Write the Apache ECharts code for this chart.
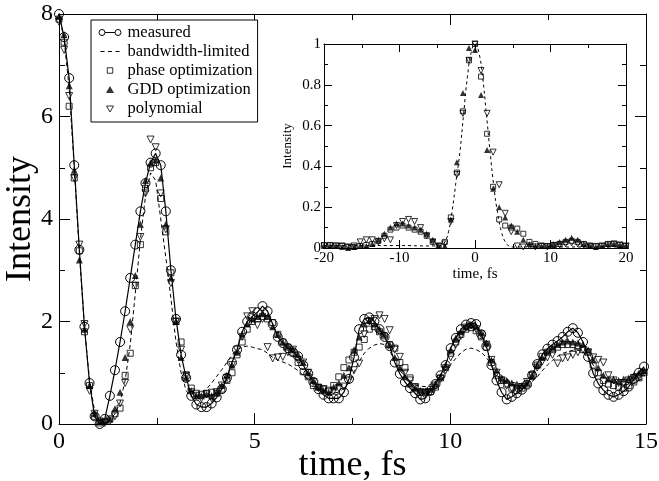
<!DOCTYPE html>
<html>
<head>
    <meta charset="UTF-8">
    <title>Intensity</title>
    <style>
        html, body {margin:0; padding:0; background:#fff;}
        #main {width:659px; height:481px;}
    </style>
</head>
<body>
<div id="main"></div>

<script src="https://cdn.jsdelivr.net/npm/echarts@6/dist/echarts.min.js"></script>
<script>
    // main plot, time in fs
    var mainTime = [0, 0.13, 0.26, 0.39, 0.52, 0.65, 0.78, 0.91, 1.04, 1.17,
        1.3, 1.43, 1.56, 1.69, 1.82, 1.95, 2.08, 2.21, 2.34, 2.47,
        2.6, 2.73, 2.86, 2.99, 3.12, 3.25, 3.38, 3.51, 3.64, 3.77,
        3.9, 4.03, 4.16, 4.29, 4.42, 4.55, 4.68, 4.81, 4.94, 5.07,
        5.2, 5.33, 5.46, 5.59, 5.72, 5.85, 5.98, 6.11, 6.24, 6.37,
        6.5, 6.63, 6.76, 6.89, 7.02, 7.15, 7.28, 7.41, 7.54, 7.67,
        7.8, 7.93, 8.06, 8.19, 8.32, 8.45, 8.58, 8.71, 8.84, 8.97,
        9.1, 9.23, 9.36, 9.49, 9.62, 9.75, 9.88, 10.01, 10.14, 10.27,
        10.4, 10.53, 10.66, 10.79, 10.92, 11.05, 11.18, 11.31, 11.44, 11.57,
        11.7, 11.83, 11.96, 12.09, 12.22, 12.35, 12.48, 12.61, 12.74, 12.87,
        13, 13.13, 13.26, 13.39, 13.52, 13.65, 13.78, 13.91, 14.04, 14.17,
        14.3, 14.43, 14.56, 14.69, 14.82, 14.95];

    var measured = [8.00, 7.55, 6.75, 5.05, 3.40, 1.90, 0.80, 0.15, 0.00, 0.10,
        0.55, 1.05, 1.60, 2.20, 2.85, 3.50, 4.15, 4.70, 5.10, 5.28,
        5.05, 4.15, 3.00, 2.05, 1.35, 0.90, 0.55, 0.38, 0.33, 0.33,
        0.40, 0.52, 0.68, 0.90, 1.20, 1.45, 1.80, 2.00, 2.10, 2.18,
        2.30, 2.20, 1.95, 1.70, 1.58, 1.48, 1.40, 1.32, 1.15, 0.98,
        0.82, 0.68, 0.57, 0.50, 0.50, 0.50, 0.62, 0.88, 1.30, 1.85,
        2.05, 2.08, 2.00, 1.85, 1.70, 1.52, 1.20, 0.98, 0.82, 0.70,
        0.60, 0.48, 0.50, 0.65, 0.78, 0.95, 1.15, 1.48, 1.68, 1.85,
        1.94, 1.97, 1.95, 1.75, 1.52, 1.15, 0.85, 0.62, 0.48, 0.53,
        0.60, 0.67, 0.77, 0.95, 1.17, 1.36, 1.47, 1.55, 1.62, 1.70,
        1.80, 1.87, 1.78, 1.60, 1.31, 0.99, 0.79, 0.66, 0.57, 0.53,
        0.57, 0.64, 0.73, 0.88, 1.00, 1.12];

    var bandwidthLimited = [8.00, 7.50, 6.55, 5.00, 3.35, 1.90, 0.85, 0.25, 0.03, 0.03,
        0.08, 0.20, 0.42, 0.85, 1.55, 2.55, 3.60, 4.45, 4.90, 4.75,
        4.00, 3.25, 2.45, 1.60, 1.00, 0.65, 0.53, 0.52, 0.58, 0.68,
        0.80, 0.93, 1.06, 1.20, 1.35, 1.45, 1.50, 1.52, 1.50, 1.47,
        1.45, 1.38, 1.30, 1.25, 1.21, 1.17, 1.11, 1.04, 0.95, 0.86,
        0.78, 0.70, 0.65, 0.62, 0.61, 0.62, 0.70, 0.80, 1.02, 1.22,
        1.38, 1.48, 1.54, 1.57, 1.55, 1.44, 1.22, 1.05, 0.92, 0.83,
        0.76, 0.74, 0.73, 0.77, 0.83, 0.94, 1.06, 1.16, 1.28, 1.39,
        1.46, 1.48, 1.45, 1.40, 1.30, 1.15, 1.02, 0.94, 0.88, 0.82,
        0.79, 0.78, 0.79, 0.83, 0.92, 1.04, 1.15, 1.24, 1.32, 1.38,
        1.41, 1.44, 1.44, 1.40, 1.32, 1.15, 1.02, 0.92, 0.85, 0.80,
        0.77, 0.76, 0.78, 0.80, 0.85, 0.90];

    var phaseOpt = [7.90, 7.45, 6.20, 4.80, 3.38, 1.80, 0.75, 0.15, 0.02, 0.05,
        0.10, 0.20, 0.31, 0.95, 1.38, 2.70, 3.50, 4.60, 5.00, 5.10,
        4.40, 3.75, 2.95, 2.00, 1.60, 0.95, 0.70, 0.60, 0.58, 0.60,
        0.62, 0.60, 0.68, 0.85, 1.00, 1.35, 1.60, 1.85, 2.00, 2.05,
        2.10, 2.05, 1.98, 1.75, 1.60, 1.50, 1.40, 1.20, 1.02, 0.92,
        0.75, 0.72, 0.68, 0.66, 0.75, 0.92, 1.10, 1.25, 1.40, 1.50,
        1.65, 1.85, 1.90, 1.80, 1.72, 1.55, 1.48, 1.20, 1.10, 0.90,
        0.72, 0.62, 0.62, 0.63, 0.72, 0.90, 1.10, 1.38, 1.60, 1.75,
        1.85, 1.88, 1.82, 1.70, 1.50, 1.20, 0.95, 0.85, 0.78, 0.70,
        0.65, 0.70, 0.78, 0.95, 1.15, 1.32, 1.40, 1.45, 1.50, 1.55,
        1.55, 1.55, 1.52, 1.45, 1.40, 1.15, 1.00, 0.85, 0.78, 0.75,
        0.72, 0.70, 0.75, 0.82, 0.90, 1.00];

    var gddOpt = [7.95, 7.60, 6.60, 4.95, 3.20, 1.85, 0.75, 0.20, 0.05, 0.05,
        0.10, 0.30, 0.62, 1.30, 2.00, 2.90, 3.90, 4.75, 5.10, 5.15,
        4.80, 3.90, 2.85, 2.00, 1.30, 0.90, 0.65, 0.55, 0.55, 0.58,
        0.55, 0.62, 0.75, 0.95, 1.15, 1.40, 1.75, 1.95, 2.05, 2.10,
        2.15, 2.10, 1.90, 1.75, 1.60, 1.52, 1.45, 1.35, 1.20, 1.00,
        0.85, 0.72, 0.65, 0.62, 0.72, 0.80, 0.95, 1.10, 1.45, 1.70,
        1.95, 2.02, 1.95, 1.85, 1.75, 1.55, 1.30, 1.10, 0.92, 0.78,
        0.70, 0.66, 0.65, 0.68, 0.78, 0.92, 1.15, 1.45, 1.68, 1.80,
        1.90, 1.93, 1.90, 1.78, 1.58, 1.25, 1.05, 0.90, 0.85, 0.80,
        0.78, 0.75, 0.80, 0.95, 1.15, 1.30, 1.42, 1.50, 1.55, 1.60,
        1.62, 1.60, 1.58, 1.55, 1.45, 1.25, 1.10, 0.95, 0.88, 0.88,
        0.85, 0.88, 0.90, 0.95, 1.00, 1.05];

    var polynomial = [7.85, 7.30, 6.40, 4.80, 3.50, 1.95, 0.65, 0.20, 0.05, 0.02,
        0.05, 0.15, 0.40, 0.80, 1.85, 2.70, 3.65, 4.50, 5.55, 5.40,
        4.50, 3.80, 2.75, 2.00, 1.45, 0.95, 0.62, 0.55, 0.50, 0.58,
        0.50, 0.62, 0.75, 0.90, 1.15, 1.45, 1.70, 2.10, 2.20, 1.93,
        2.05, 1.50, 1.28, 1.30, 1.31, 1.40, 1.45, 1.25, 1.20, 1.00,
        0.82, 0.70, 0.68, 0.62, 0.65, 0.70, 0.73, 0.85, 1.05, 1.18,
        1.75, 2.00, 2.05, 2.12, 2.05, 1.83, 1.45, 1.31, 1.00, 0.85,
        0.72, 0.62, 0.60, 0.62, 0.75, 0.88, 1.05, 1.30, 1.55, 1.72,
        1.88, 1.92, 1.85, 1.75, 1.55, 1.25, 1.00, 0.85, 0.75, 0.70,
        0.68, 0.72, 0.82, 0.95, 1.10, 1.22, 1.30, 1.35, 1.18, 1.28,
        1.30, 1.35, 1.40, 1.45, 1.40, 1.30, 1.25, 1.20, 0.95, 0.85,
        0.80, 0.80, 0.85, 0.90, 0.92, 1.00];

    // inset, normalised intensity
    var insetTime = [-20, -19.2, -18.4, -17.6, -16.8, -16, -15.2, -14.4, -13.6, -12.8,
        -12, -11.2, -10.4, -9.6, -8.8, -8, -7.2, -6.4, -5.6, -4.8,
        -4, -3.2, -2.4, -1.6, -0.8, 0, 0.8, 1.6, 2.4, 3.2,
        4, 4.8, 5.6, 6.4, 7.2, 8, 8.8, 9.6, 10.4, 11.2,
        12, 12.8, 13.6, 14.4, 15.2, 16, 16.8, 17.6, 18.4, 19.2,
        20];

    var insetBwTime = [-20, -10, -6, -5, -4.5, -4, -3.5, -3, -2.5, -2, -1.5, -1, -0.5, 0,
        0.5, 1, 1.5, 2, 2.5, 3, 3.5, 4, 4.5, 5, 6, 10, 20];
    var insetBw = [0.012, 0.012, 0.01, 0.01, 0.012, 0.03, 0.08, 0.19, 0.33, 0.47, 0.66, 0.84, 0.96, 1.0,
        0.96, 0.84, 0.66, 0.47, 0.30, 0.17, 0.08, 0.03, 0.01, 0.005, 0.005, 0.005, 0.005];

    var insetPhase = [0.015, 0.015, 0.012, 0.01, 0.005, 0.005, 0.01, 0.015, 0.02, 0.035,
        0.06, 0.09, 0.10, 0.11, 0.10, 0.09, 0.08, 0.06, 0.03, 0.01,
        0.03, 0.15, 0.37, 0.67, 0.92, 1.00, 0.84, 0.56, 0.30, 0.14,
        0.11, 0.10, 0.095, 0.07, 0.03, 0.02, 0.01, 0.01, 0.015, 0.02,
        0.03, 0.035, 0.03, 0.02, 0.01, 0.01, 0.01, 0.02, 0.02, 0.015,
        0.01];

    var insetGdd = [0.01, 0.01, 0.01, 0.005, 0.0, 0.005, 0.01, 0.01, 0.02, 0.04,
        0.07, 0.10, 0.12, 0.12, 0.11, 0.10, 0.09, 0.07, 0.04, 0.01,
        0.01, 0.14, 0.42, 0.76, 0.98, 0.97, 0.75, 0.48, 0.29, 0.20,
        0.15, 0.11, 0.08, 0.04, 0.02, 0.01, 0.01, 0.01, 0.02, 0.03,
        0.04, 0.05, 0.04, 0.02, 0.01, 0.005, 0.01, 0.02, 0.02, 0.015,
        0.01];

    var insetPoly = [0.01, 0.01, 0.01, 0.01, 0.005, 0.01, 0.03, 0.04, 0.04, 0.03,
        0.045, 0.04, 0.11, 0.13, 0.14, 0.13, 0.10, 0.06, 0.03, 0.01,
        0.02, 0.13, 0.36, 0.66, 0.92, 1.00, 0.87, 0.66, 0.47, 0.31,
        0.17, 0.08, 0.01, 0.005, 0.01, 0.005, 0.01, 0.005, 0.01, 0.015,
        0.02, 0.025, 0.02, 0.015, 0.01, 0.005, 0.01, 0.015, 0.02, 0.015,
        0.01];

    var serif = 'Liberation Serif';
    var myChart = echarts.init(document.getElementById('main'));

    function pairs(xs, ys) {
        return xs.map(function (x, i) { return [x, ys[i]]; });
    }

    function makeAxis(gridIndex, position, min, max, interval, labelSize, tickLen, showLabel) {
        return {
            type: 'value', gridIndex: gridIndex, position: position,
            min: min, max: max, interval: interval,
            nameMoveOverlap: false,
            axisLine: {show: true, onZero: false, lineStyle: {color: '#000', width: 1}},
            axisTick: {show: true, inside: true, length: tickLen, lineStyle: {color: '#000', width: 1}},
            minorTick: {show: true, splitNumber: 2, length: Math.round(tickLen / 2), lineStyle: {color: '#000', width: 1}},
            splitLine: {show: false},
            axisLabel: {
                show: showLabel, fontFamily: serif, fontSize: labelSize, color: '#000',
                margin: labelSize > 20 ? 6 : 3, showMinLabel: true, showMaxLabel: true
            }
        };
    }

    var xMain = makeAxis(0, 'bottom', 0, 15, 5, 24, 11, true);
    xMain.name = 'time, fs';
    xMain.nameLocation = 'middle';
    xMain.nameGap = 24;
    xMain.nameTextStyle = {fontFamily: serif, fontSize: 36, color: '#000'};

    var yMain = makeAxis(0, 'left', 0, 8, 2, 24, 11, true);
    yMain.name = 'Intensity';
    yMain.nameLocation = 'middle';
    yMain.nameGap = 20;
    yMain.nameTextStyle = {fontFamily: serif, fontSize: 36, color: '#000'};

    var xInset = makeAxis(1, 'bottom', -20, 20, 10, 15, 8, true);
    xInset.name = 'time, fs';
    xInset.nameLocation = 'middle';
    xInset.nameGap = 19;
    xInset.nameTextStyle = {fontFamily: serif, fontSize: 15, color: '#000'};

    var yInset = makeAxis(1, 'left', 0, 1, 0.2, 15, 8, true);
    yInset.name = 'Intensity';
    yInset.nameLocation = 'middle';
    yInset.nameGap = 30;
    yInset.nameTextStyle = {fontFamily: serif, fontSize: 13, color: '#000'};

    var hollow = {color: 'rgba(0,0,0,0)', borderColor: '#000', borderWidth: 1};
    var solid = {color: '#000', borderWidth: 0};

    // legend icons are 25x8 boxes, the leading moves fix the box so the marks keep their size
    var iconBox = 'path://M0,0M25,8';

    var option = {
        backgroundColor: '#fff',
        animation: false,
        grid: [
            {left: 59, top: 14, right: 13, bottom: 57, outerBoundsMode: 'none'},
            {left: 324, top: 44, right: 33, bottom: 233, outerBoundsMode: 'none'}
        ],
        xAxis: [
            xMain,
            makeAxis(0, 'top', 0, 15, 5, 24, 11, false),
            xInset,
            makeAxis(1, 'top', -20, 20, 10, 15, 8, false)
        ],
        yAxis: [
            yMain,
            makeAxis(0, 'right', 0, 8, 2, 24, 11, false),
            yInset,
            makeAxis(1, 'right', 0, 1, 0.2, 15, 8, false)
        ],
        legend: {
            orient: 'vertical',
            left: 91, top: 20,
            padding: [4, 5, 5, 6],
            backgroundColor: '#fff',
            borderColor: '#000',
            borderWidth: 1,
            borderRadius: 0,
            itemWidth: 25, itemHeight: 8, itemGap: 2,
            selectedMode: false,
            textStyle: {fontFamily: serif, fontSize: 16.5, lineHeight: 16, color: '#000'},
            data: [
                {name: 'measured',
                 icon: iconBox + 'M1.5,4A3,3,0,1,0,7.5,4A3,3,0,1,0,1.5,4ZM7.5,4L17.5,4M17.5,4A3,3,0,1,0,23.5,4A3,3,0,1,0,17.5,4Z',
                 itemStyle: hollow},
                {name: 'bandwidth-limited',
                 icon: iconBox + 'M3,4L7,4M10.5,4L14.5,4M18,4L22,4',
                 itemStyle: hollow},
                {name: 'phase optimization',
                 icon: iconBox + 'M9.75,1.25L15.25,1.25L15.25,6.75L9.75,6.75Z',
                 itemStyle: hollow},
                {name: 'GDD optimization',
                 icon: iconBox + 'M12.5,0.5L16.5,7.5L8.5,7.5Z',
                 itemStyle: solid},
                {name: 'polynomial',
                 icon: iconBox + 'M9,1.5L16,1.5L12.5,7.5Z',
                 itemStyle: hollow}
            ]
        },
        series: [
            {
                name: 'bandwidth-limited', type: 'line', xAxisIndex: 0, yAxisIndex: 0,
                data: pairs(mainTime, bandwidthLimited), symbol: 'none', smooth: false,
                lineStyle: {color: '#000', width: 1, type: [4, 3]}, itemStyle: solid, z: 2
            },
            {
                name: 'phase optimization', type: 'scatter', xAxisIndex: 0, yAxisIndex: 0,
                data: pairs(mainTime, phaseOpt), symbol: 'rect', symbolSize: 6, itemStyle: hollow, z: 3
            },
            {
                name: 'GDD optimization', type: 'scatter', xAxisIndex: 0, yAxisIndex: 0,
                data: pairs(mainTime, gddOpt), symbol: 'triangle', symbolSize: 7, itemStyle: solid, z: 3
            },
            {
                name: 'polynomial', type: 'scatter', xAxisIndex: 0, yAxisIndex: 0,
                data: pairs(mainTime, polynomial), symbol: 'triangle', symbolRotate: 180, symbolSize: 7,
                itemStyle: hollow, z: 3
            },
            {
                name: 'measured', type: 'line', xAxisIndex: 0, yAxisIndex: 0,
                data: pairs(mainTime, measured), symbol: 'circle', symbolSize: 9,
                showSymbol: true, showAllSymbol: true,
                lineStyle: {color: '#000', width: 1.2}, itemStyle: hollow, z: 4
            },
            {
                name: 'bandwidth-limited', type: 'line', xAxisIndex: 2, yAxisIndex: 2,
                data: pairs(insetBwTime, insetBw), symbol: 'none', smooth: true,
                lineStyle: {color: '#000', width: 1, type: [3, 3]}, itemStyle: solid
            },
            {
                name: 'phase optimization', type: 'scatter', xAxisIndex: 2, yAxisIndex: 2,
                data: pairs(insetTime, insetPhase), symbol: 'rect', symbolSize: 5, itemStyle: hollow
            },
            {
                name: 'GDD optimization', type: 'scatter', xAxisIndex: 2, yAxisIndex: 2,
                data: pairs(insetTime, insetGdd), symbol: 'triangle', symbolSize: 6, itemStyle: solid
            },
            {
                name: 'polynomial', type: 'scatter', xAxisIndex: 2, yAxisIndex: 2,
                data: pairs(insetTime, insetPoly), symbol: 'triangle', symbolRotate: 180, symbolSize: 6,
                itemStyle: hollow
            }
        ]
    };
    myChart.setOption(option);
</script>
</body>
</html>
